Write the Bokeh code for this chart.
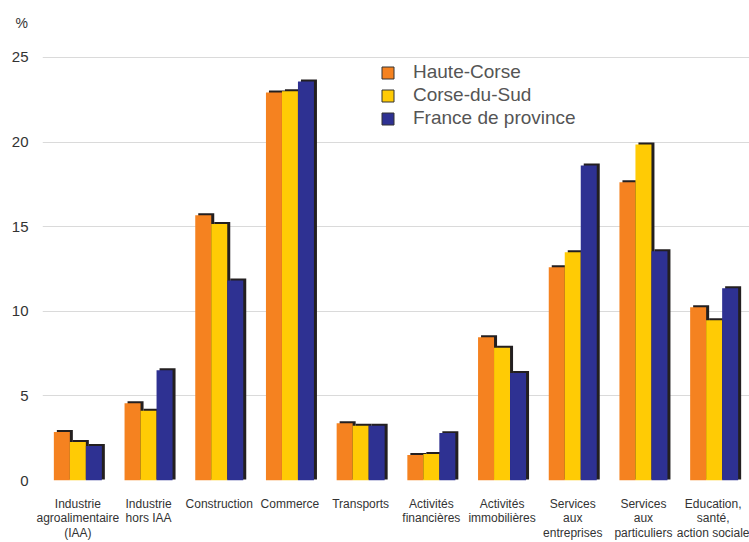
from bokeh.plotting import figure
from bokeh.models import ColumnDataSource, FactorRange, Range1d, FixedTicker, Legend, LegendItem
from bokeh.transform import dodge
from bokeh.embed import file_html
from bokeh.resources import INLINE

categories = [
    "Industrie\nagroalimentaire\n(IAA)",
    "Industrie\nhors IAA",
    "Construction",
    "Commerce",
    "Transports",
    "Activités\nfinancières",
    "Activités\nimmobilières",
    "Services\naux\nentreprises",
    "Services\naux\nparticuliers",
    "Education,\nsanté,\naction sociale",
]
series_names = ["Haute-Corse", "Corse-du-Sud", "France de province"]
haute_corse = [2.86, 4.57, 15.67, 22.93, 3.39, 1.50, 8.47, 12.60, 17.62, 10.24]
corse_du_sud = [2.27, 4.12, 15.16, 23.01, 3.23, 1.57, 7.84, 13.49, 19.86, 9.47]
france_province = [2.04, 6.52, 11.82, 23.58, 3.23, 2.80, 6.36, 18.62, 13.55, 11.36]
y_ticks = [0, 5, 10, 15, 20, 25]

colors = ["#F58220", "#FFCB05", "#2E3192"]
shadow_color = "#231F20"

FRAME_W = 707
CAT_PX = FRAME_W / len(categories)
BAR_W = 16 / CAT_PX
PX_PER_UNIT = 16.94
SH_DX = 3 / CAT_PX
SH_DY = 2 / PX_PER_UNIT
TOP_PAD = 10 / PX_PER_UNIT          # blank space above the 25 line

p = figure(
    x_range=FactorRange(*categories, range_padding=0),
    y_range=Range1d(0, y_ticks[-1] + TOP_PAD),
    width=749, height=542,
    output_backend="svg", toolbar_location=None,
    min_border_left=42, min_border_right=0, min_border_top=46, min_border_bottom=62,
)
p.outline_line_color = None
p.background_fill_color = "white"
p.border_fill_color = "white"

all_series = [haute_corse, corse_du_sud, france_province]
offsets = [-BAR_W, 0.0, BAR_W]
data = {"cat": categories}
for i, s in enumerate(all_series):
    data[f"v{i}"] = s
    data[f"s{i}"] = [v + SH_DY for v in s]
src = ColumnDataSource(data)

for i in range(3):
    p.vbar(x=dodge("cat", offsets[i] + SH_DX, range=p.x_range), top=f"s{i}",
           bottom=SH_DY * 0.5, width=BAR_W, fill_color=shadow_color, line_color=None, source=src)
for i in range(3):
    p.vbar(x=dodge("cat", offsets[i], range=p.x_range), top=f"v{i}", bottom=0,
           width=BAR_W, fill_color=colors[i], line_color=None, source=src)

items = []
for i, name in enumerate(series_names):
    r = p.vbar(x="x", top="top", width=0.1, fill_color=colors[i], line_color="#333333",
               line_width=1, source=ColumnDataSource(dict(x=[categories[0]], top=[float("nan")])))
    items.append(LegendItem(label=name, renderers=[r]))
legend = Legend(items=items, location=(338, 351), padding=10, margin=0, spacing=1,
                glyph_width=15, glyph_height=15, label_standoff=18, label_height=20,
                label_text_font="Liberation Sans", label_text_font_size="19px",
                label_text_color="#555555", background_fill_color="white",
                background_fill_alpha=1.0, border_line_color=None)
p.add_layout(legend, "center")

p.xgrid.grid_line_color = None
p.ygrid.grid_line_color = "#dadada"
p.ygrid.grid_line_width = 1.2
p.yaxis.ticker = FixedTicker(ticks=y_ticks)
p.yaxis.axis_line_color = None
p.yaxis.major_tick_line_color = None
p.yaxis.minor_tick_line_color = None
p.yaxis.major_label_text_font = "Liberation Sans"
p.yaxis.major_label_text_font_size = "15px"
p.yaxis.major_label_text_color = "#333333"
p.yaxis.major_label_standoff = 8

p.xaxis.axis_line_color = None
p.xaxis.major_tick_line_color = None
p.xaxis.minor_tick_line_color = None
p.xaxis.major_tick_out = 0
p.xaxis.major_label_text_font = "Liberation Sans"
p.xaxis.major_label_text_font_size = "12px"
p.xaxis.major_label_text_color = "#333333"
p.xaxis.major_label_text_line_height = 1.05
p.xaxis.major_label_standoff = 16
p.xaxis.major_label_orientation = "horizontal"

p.title.text = "%"
p.title.align = "left"
p.title.vertical_align = "top"
p.title.offset = -27
p.title.standoff = 29
p.title.text_font = "Liberation Sans"
p.title.text_font_size = "14px"
p.title.text_font_style = "normal"
p.title.text_color = "#333333"

open("out.html", "w").write(file_html(p, INLINE))
